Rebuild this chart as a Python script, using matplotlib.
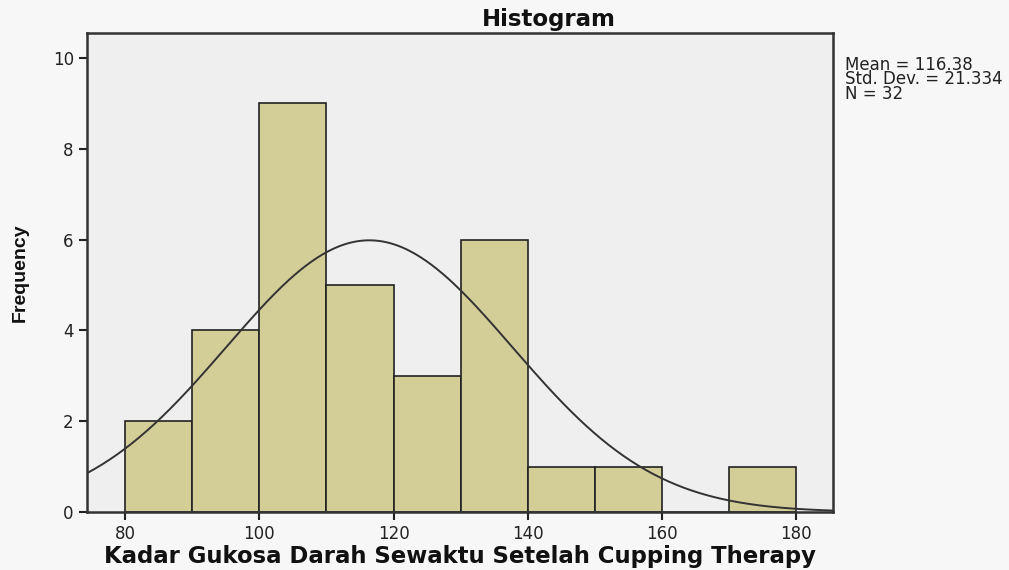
import numpy as np
import matplotlib
matplotlib.use("Agg")
import matplotlib.pyplot as plt

plt.rcParams['font.family'] = ['DejaVu Sans']

# histogram data
bin_edges = [80, 90, 100, 110, 120, 130, 140, 150, 160, 170, 180]
counts = [2, 4, 9, 5, 3, 6, 1, 1, 0, 1]
mean = 116.38
std = 21.334
n = 32

W, H = 1009, 570
fig = plt.figure(figsize=(W / 100, H / 100), dpi=100, facecolor='#f7f7f7')
ax = fig.add_axes([87 / W, 1 - 512 / H, (833 - 87) / W, (512 - 33) / H])
ax.set_facecolor('#efefef')

widths = np.diff(bin_edges)
ax.bar(bin_edges[:-1], counts, width=widths, align='edge',
       color='#d3ce98', edgecolor='#222222', linewidth=1.2, zorder=2)

# fitted normal curve scaled to counts
x = np.linspace(74.3, 185.5, 400)
bw = bin_edges[1] - bin_edges[0]
y = n * bw / (std * np.sqrt(2 * np.pi)) * np.exp(-0.5 * ((x - mean) / std) ** 2)
ax.plot(x, y, color='#333333', linewidth=1.4, zorder=3)

ax.set_xlim(74.3, 185.5)
ax.set_ylim(0, 10.55)
ax.set_xticks([80, 100, 120, 140, 160, 180])
ax.set_yticks([0, 2, 4, 6, 8, 10])
ax.tick_params(axis='both', labelsize=12, colors='#222222', length=6, width=1.5)
for s in ax.spines.values():
    s.set_linewidth(1.8)
    s.set_color('#333333')

fig.text(549 / W, 1 - 26 / H, 'Histogram', fontsize=16.5, fontweight='bold',
         ha='center', va='baseline', color='#111111')
ax.set_xlabel('Kadar Gukosa Darah Sewaktu Setelah Cupping Therapy',
              fontsize=16.4, fontweight='bold', labelpad=1, color='#111111')
ax.set_ylabel('Frequency', fontsize=14, fontweight='bold',
              family=['Liberation Sans Narrow', 'Liberation Sans', 'DejaVu Sans'],
              color='#111111')
ax.yaxis.set_label_coords(-0.078, 0.5)

fig.text(845 / W, 1 - 56 / H,
         f'Mean = {mean}\nStd. Dev. = {std}\nN = {n}',
         fontsize=12, va='top', ha='left', linespacing=0.75, color='#222222')

fig.savefig('out.png', dpi=100, facecolor=fig.get_facecolor())
